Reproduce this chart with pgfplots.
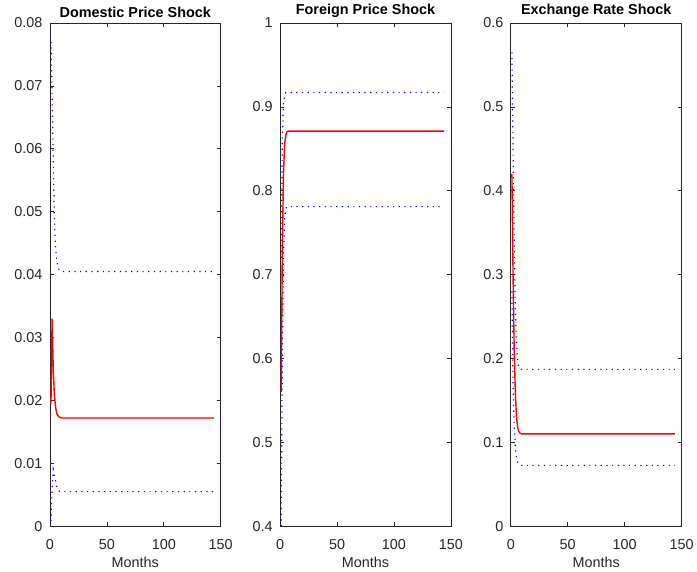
\documentclass[border=0pt]{standalone}
\usepackage{pgfplots}
\pgfplotsset{compat=1.18}
\usepackage{fontspec}
\setmainfont{Liberation Sans}
\definecolor{axgray}{rgb}{0.15,0.15,0.15}
\pgfplotsset{
  mpanel/.style={
    scale only axis, width=171.5bp, height=505bp,
    anchor=south west,
    xmin=0, xmax=150, xtick={0,50,100,150},
    tick align=inside, major tick length=4bp,
    axis line style={axgray, line width=0.6bp},
    tick style={axgray, line width=0.6bp},
    ticklabel style={font=\fontsize{14.5}{17}\selectfont, text=axgray},
    xticklabel style={yshift=-10bp},
    yticklabel style={xshift=-4bp},
    /pgf/number format/assume math mode=true,
    title style={font=\bfseries\fontsize{14.5}{17}\selectfont, yshift=-4bp},
    xlabel=Months,
    xlabel style={font=\fontsize{14.5}{17}\selectfont, text=axgray, yshift=0bp},
    scaled y ticks=false,
  },
  red line/.style={red, line width=1.4bp},
  blue dot/.style={blue, line width=1.2bp, dash pattern=on 1.2bp off 4.5bp},
}
\begin{document}
\begin{tikzpicture}
\path (0bp,0bp) rectangle (697bp,573bp);
% Panel 1
\begin{axis}[mpanel, at={(50bp,45bp)}, title={Domestic Price Shock},
  ymin=0, ymax=0.08, ytick={0,0.01,0.02,0.03,0.04,0.05,0.06,0.07,0.08},
  yticklabels={0,0.01,0.02,0.03,0.04,0.05,0.06,0.07,0.08}]
\addplot[blue dot] coordinates {(1,0.077) (2,0.069) (3,0.058) (4,0.049) (5,0.0445) (6,0.0425) (7,0.0413) (8,0.0408) (9,0.0406) (10,0.0405) (144,0.0405)};
\addplot[blue dot] coordinates {(1,0.0008) (2,0.006) (3,0.009) (4,0.0082) (5,0.0072) (6,0.0063) (7,0.0058) (8,0.0056) (9,0.0055) (144,0.0055)};
\addplot[red line] coordinates {(1,0.0195) (2,0.033) (3,0.025) (4,0.0208) (5,0.019) (6,0.018) (7,0.0176) (8,0.0174) (9,0.0173) (10,0.0172) (144,0.0172)};
\end{axis}
% Panel 2
\begin{axis}[mpanel, at={(281bp,45bp)}, title={Foreign Price Shock},
  ymin=0.4, ymax=1, ytick={0.4,0.5,0.6,0.7,0.8,0.9,1},
  yticklabels={0.4,0.5,0.6,0.7,0.8,0.9,1}]
\addplot[blue dot] coordinates {(1,0.72) (2,0.86) (3,0.905) (4,0.914) (5,0.917) (144,0.917)};
\addplot[blue dot] coordinates {(1,0.40) (2,0.60) (3,0.72) (4,0.765) (5,0.778) (6,0.781) (144,0.781)};
\addplot[red line] coordinates {(1,0.56) (2,0.73) (3,0.82) (4,0.855) (5,0.866) (6,0.87) (7,0.871) (144,0.871)};
\end{axis}
% Panel 3
\begin{axis}[mpanel, at={(512.5bp,45bp)}, title={Exchange Rate Shock},
  ymin=0, ymax=0.6, ytick={0,0.1,0.2,0.3,0.4,0.5,0.6},
  yticklabels={0,0.1,0.2,0.3,0.4,0.5,0.6}]
\addplot[blue dot] coordinates {(1,0.565) (2,0.45) (3,0.34) (4,0.26) (5,0.22) (6,0.2) (7,0.19) (8,0.1875) (9,0.187) (144,0.187)};
\addplot[blue dot] coordinates {(1,0.28) (2,0.17) (3,0.12) (4,0.095) (5,0.082) (6,0.076) (7,0.074) (8,0.073) (9,0.0725) (144,0.0725)};
\addplot[red line] coordinates {(1,0.42) (2,0.30) (3,0.21) (4,0.16) (5,0.13) (6,0.118) (7,0.113) (8,0.111) (9,0.1105) (10,0.11) (144,0.11)};
\end{axis}
\end{tikzpicture}
\end{document}
